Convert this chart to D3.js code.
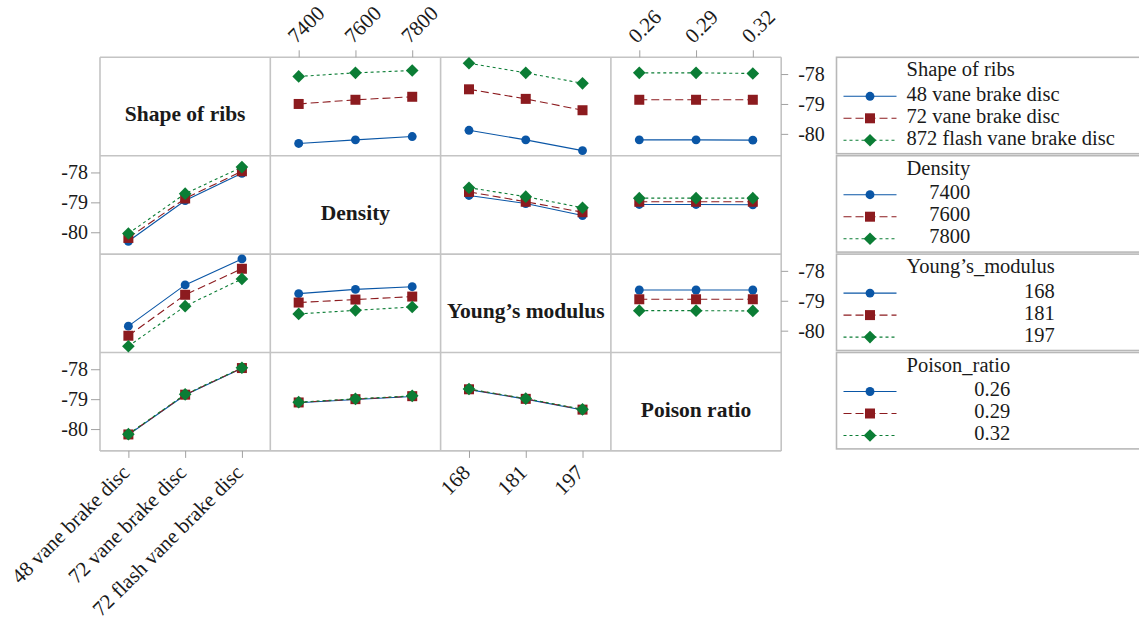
<!DOCTYPE html>
<html>
<head>
<meta charset="utf-8">
<script src="https://cdn.jsdelivr.net/npm/d3@7"></script>
<style>
  body { margin: 0; background: #fff; }
  svg text { font-family: "Liberation Serif", "Times New Roman", serif; fill: #1a1a1a; }
</style>
</head>
<body>
<svg id="chart" width="1139" height="622"></svg>
<script>
// factors and their levels
const factorNames = ['Shape of ribs', 'Density', 'Young\u2019s modulus', 'Poison ratio'];
const legendTitles = ['Shape of ribs', 'Density', 'Young\u2019s_modulus', 'Poison_ratio'];
const shapeLevels = ['48 vane brake disc', '72 vane brake disc', '72 flash vane brake disc'];
const shapeLegendLabels = ['48 vane brake disc', '72 vane brake disc', '872 flash vane brake disc'];
const densityLevels = ['7400', '7600', '7800'];
const youngLevels = ['168', '181', '197'];
const poisonLevels = ['0.26', '0.29', '0.32'];
const yTicks = [-78, -79, -80];

// mean response per panel: one array per trace level, one value per x level
const shapeByDensity = [[-80.32, -80.20, -80.09], [-79.00, -78.86, -78.76], [-78.08, -77.96, -77.88]];
const shapeByYoung = [[-79.88, -80.20, -80.56], [-78.51, -78.83, -79.21], [-77.64, -77.96, -78.31]];
const shapeByPoison = [[-80.20, -80.20, -80.21], [-78.86, -78.86, -78.86], [-77.96, -77.96, -77.98]];
const densityByShape = [[-80.30, -78.94, -78.03], [-80.19, -78.87, -77.96], [-80.04, -78.71, -77.82]];
const densityByYoung = [[-78.77, -79.04, -79.44], [-78.65, -78.98, -79.33], [-78.51, -78.81, -79.18]];
const densityByPoison = [[-79.07, -79.07, -79.08], [-78.98, -78.98, -78.98], [-78.86, -78.86, -78.86]];
const youngByShape = [[-79.85, -78.47, -77.60], [-80.17, -78.80, -77.93], [-80.52, -79.18, -78.27]];
const youngByDensity = [[-78.76, -78.62, -78.53], [-79.06, -78.96, -78.86], [-79.44, -79.32, -79.21]];
const youngByPoison = [[-78.64, -78.64, -78.64], [-78.95, -78.95, -78.95], [-79.33, -79.33, -79.34]];
const poisonByShape = [[-80.19, -78.86, -77.97], [-80.18, -78.85, -77.96], [-80.17, -78.84, -77.95]];
const poisonByDensity = [[-79.12, -79.01, -78.91], [-79.11, -79.00, -78.90], [-79.10, -78.99, -78.89]];
const poisonByYoung = [[-78.68, -79.00, -79.36], [-78.67, -78.99, -79.35], [-78.66, -78.98, -79.34]];

const levelsByFactor = [shapeLevels, densityLevels, youngLevels, poisonLevels];
const legendLabels = [shapeLegendLabels, densityLevels, youngLevels, poisonLevels];
const panelValues = [
  [null, shapeByDensity, shapeByYoung, shapeByPoison],
  [densityByShape, null, densityByYoung, densityByPoison],
  [youngByShape, youngByDensity, null, youngByPoison],
  [poisonByShape, poisonByDensity, poisonByYoung, null]
];

// layout
const gx0 = 100, gy0 = 57.3, cellW = 170.3, cellH = 98.4;
const gridColor = '#c4c4c4';
const tickColor = '#a0a0a0';
const tickFont = '20px';
const xTickFont = '21px';
const legendFont = '20.5px';

const colors = ['#0a56a6', '#8c1b1f', '#0b7d35'];
const dashes = [null, '8,4', '3,3'];
const symbols = [
  d3.symbol().type(d3.symbolCircle).size(62),
  d3.symbol().type(d3.symbolSquare).size(100),
  d3.symbol().type(d3.symbolSquare).size(80)
];
const symbolRotate = [0, 0, 45];

const svg = d3.select('#chart');

const y = d3.scaleLinear().domain([-80.73, -77.44]).range([cellH, 0]);
const xScales = levelsByFactor.map(lv => d3.scalePoint().domain(lv).range([0, cellW]).padding(0.5));

// grid
const grid = svg.append('g').attr('class', 'grid');
d3.range(5).forEach(i => {
  grid.append('line')
    .attr('x1', gx0 + i * cellW).attr('x2', gx0 + i * cellW)
    .attr('y1', gy0).attr('y2', gy0 + 4 * cellH)
    .attr('stroke', gridColor).attr('stroke-width', 1.6);
  grid.append('line')
    .attr('x1', gx0).attr('x2', gx0 + 4 * cellW)
    .attr('y1', gy0 + i * cellH).attr('y2', gy0 + i * cellH)
    .attr('stroke', gridColor).attr('stroke-width', 1.6);
});

// panels
for (let r = 0; r < 4; r++) {
  for (let c = 0; c < 4; c++) {
    const cell = svg.append('g')
      .attr('transform', `translate(${gx0 + c * cellW}, ${gy0 + r * cellH})`);
    if (r === c) {
      cell.append('text')
        .attr('x', cellW / 2)
        .attr('y', cellH / 2 + 15)
        .attr('text-anchor', 'middle')
        .style('font-size', '21.5px')
        .style('font-weight', 'bold')
        .text(factorNames[r]);
      continue;
    }
    const xs = xScales[c];
    const xLevels = levelsByFactor[c];
    const line = d3.line().x((d, i) => xs(xLevels[i])).y(d => y(d));
    panelValues[r][c].forEach((series, k) => {
      cell.append('path')
        .attr('d', line(series))
        .attr('fill', 'none')
        .attr('stroke', colors[k])
        .attr('stroke-width', 1.1)
        .attr('stroke-dasharray', dashes[k]);
      cell.selectAll(null)
        .data(series)
        .enter()
        .append('path')
        .attr('d', symbols[k])
        .attr('transform', (d, i) => `translate(${xs(xLevels[i])}, ${y(d)}) rotate(${symbolRotate[k]})`)
        .attr('fill', colors[k]);
    });
  }
}

function styleAxis(g) {
  g.select('.domain').remove();
  g.selectAll('.tick line').attr('stroke', tickColor);
  g.selectAll('.tick text').style('font-size', tickFont).attr('fill', '#1a1a1a');
}

// y axes: left on rows 1 and 3, right on rows 0 and 2
[1, 3].forEach(r => {
  svg.append('g')
    .attr('transform', `translate(${gx0}, ${gy0 + r * cellH})`)
    .call(d3.axisLeft(y).tickValues(yTicks).tickSize(9).tickPadding(3).tickFormat(d => String(d)))
    .call(styleAxis);
});
[0, 2].forEach(r => {
  svg.append('g')
    .attr('transform', `translate(${gx0 + 4 * cellW}, ${gy0 + r * cellH})`)
    .call(d3.axisRight(y).tickValues(yTicks).tickSize(7).tickPadding(10).tickFormat(d => String(d)))
    .call(styleAxis);
});

// x axes: top on columns 1 and 3, bottom on columns 0 and 2
[1, 3].forEach(c => {
  svg.append('g')
    .attr('transform', `translate(${gx0 + c * cellW}, ${gy0})`)
    .call(d3.axisTop(xScales[c]).tickSize(7))
    .call(styleAxis)
    .selectAll('.tick text')
    .style('font-size', xTickFont)
    .attr('x', 0).attr('y', 0).attr('dy', 0)
    .attr('text-anchor', 'start')
    .attr('transform', 'translate(-3, -13) rotate(-45)');
});
[0, 2].forEach(c => {
  svg.append('g')
    .attr('transform', `translate(${gx0 + c * cellW}, ${gy0 + 4 * cellH})`)
    .call(d3.axisBottom(xScales[c]).tickSize(7))
    .call(styleAxis)
    .selectAll('.tick text')
    .style('font-size', xTickFont)
    .attr('x', 0).attr('y', 0).attr('dy', 0)
    .attr('text-anchor', 'end')
    .attr('transform', 'translate(2, 23) rotate(-45)');
});

// legends
const legX = 836.5;
for (let i = 0; i < 4; i++) {
  const lg = svg.append('g').attr('transform', `translate(${legX}, ${gy0 + i * cellH})`);
  lg.append('rect')
    .attr('width', 320).attr('height', cellH - 2)
    .attr('fill', 'none').attr('stroke', '#b8b8b8').attr('stroke-width', 1.6);
  const title = lg.append('text')
    .attr('x', 70).attr('y', 19)
    .style('font-size', legendFont)
    .text(legendTitles[i]);
  const titleW = title.node().getComputedTextLength();
  legendLabels[i].forEach((lab, k) => {
    const yy = 39 + k * 22;
    lg.append('line')
      .attr('x1', 7).attr('x2', 60).attr('y1', yy).attr('y2', yy)
      .attr('stroke', colors[k]).attr('stroke-width', 1.1)
      .attr('stroke-dasharray', dashes[k]);
    lg.append('path')
      .attr('d', symbols[k])
      .attr('transform', `translate(33.5, ${yy}) rotate(${symbolRotate[k]})`)
      .attr('fill', colors[k]);
    lg.append('text')
      .attr('x', i === 0 ? 70 : 70 + titleW)
      .attr('y', yy + 4.5)
      .attr('text-anchor', i === 0 ? 'start' : 'end')
      .style('font-size', legendFont)
      .text(lab);
  });
}
</script>
</body>
</html>
